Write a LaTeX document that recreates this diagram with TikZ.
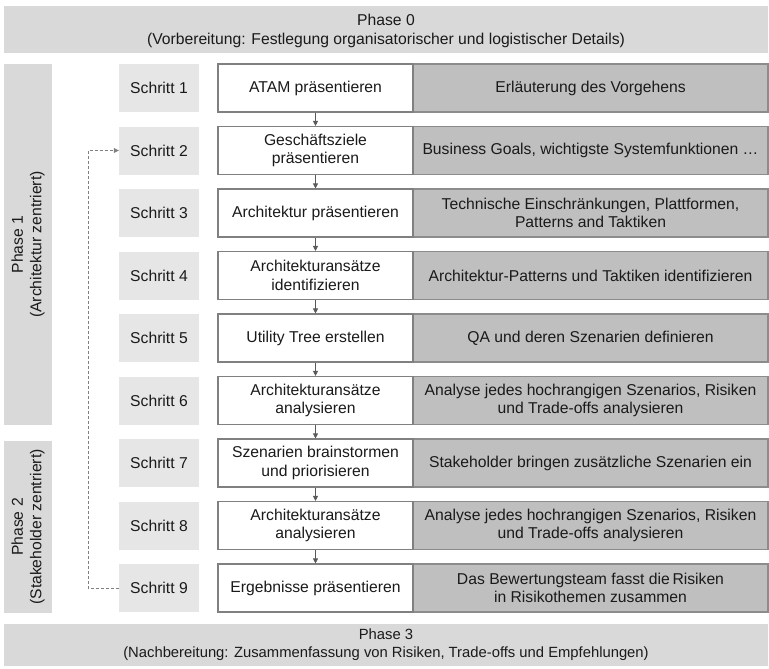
\documentclass[tikz,border=0pt]{standalone}
\usepackage{fontspec}
\setmainfont{Liberation Sans}
\usetikzlibrary{arrows.meta}

\definecolor{phasefill}{HTML}{D9D9D9}
\definecolor{stepfill}{HTML}{E6E6E6}
\definecolor{descfill}{HTML}{BFBFBF}
\definecolor{descline}{HTML}{8C8C8C}
\definecolor{actline}{HTML}{808080}
\definecolor{arrowcol}{HTML}{595959}
\definecolor{textcol}{HTML}{1A1A1A}

\tikzset{
  every node/.style={text=textcol},
  labelfont/.style={font=\fontsize{15.7}{18.5}\selectfont},
  phasebar/.style={fill=phasefill, draw=none, inner sep=0pt},
  phasetext/.style={labelfont, align=center, inner sep=0pt},
  stepbox/.style={fill=stepfill, draw=none, minimum width=80pt, minimum height=48pt,
    inner sep=0pt, labelfont},
  actbox/.style={fill=white, draw=actline, line width=1.1pt, minimum width=195pt,
    minimum height=48pt, inner sep=0pt, align=center, labelfont},
  descbox/.style={fill=descfill, draw=descline, line width=1.3pt, minimum width=355pt,
    minimum height=48pt, inner sep=0pt, align=center, labelfont},
  flow/.style={draw=arrowcol, line width=0.8pt, -{Triangle[width=5pt,length=5pt]}},
  backlink/.style={draw=actline, line width=0.8pt, dash pattern=on 3pt off 2pt,
    -{Triangle[width=5pt,length=5pt]}}
}

\begin{document}
\begin{tikzpicture}[x=1pt,y=-1pt]
\useasboundingbox (0,0) rectangle (769,669);

% phase bars
\node[phasebar, minimum width=764pt, minimum height=47pt] (p0) at (386,29.5) {};
\node[phasetext] (p0t) at (386,31)
  {Phase 0\\(Vorbereitung: Festlegung organisatorischer und logistischer Details)};
\node[phasebar, minimum width=764pt, minimum height=42pt] (p3) at (386,645) {};
\node[phasetext, font=\fontsize{14.8}{18}\selectfont] (p3t) at (386,645)
  {Phase 3\\(Nachbereitung: Zusammenfassung von Risiken, Trade-offs und Empfehlungen)};
\node[phasebar, minimum width=48pt, minimum height=361pt] (p1) at (28,244.5) {};
\node[phasetext, rotate=90] (p1t) at (p1.center) {Phase 1\\(Architektur zentriert)};
\node[phasebar, minimum width=48pt, minimum height=172pt] (p2) at (28,527) {};
\node[phasetext, rotate=90] (p2t) at (p2.center) {Phase 2\\(Stakeholder zentriert)};

% steps: label, activity, description
\foreach \k/\act/\desc in {
  1/{ATAM präsentieren}/{Erläuterung des Vorgehens},
  2/{Geschäftsziele\\präsentieren}/{Business Goals, wichtigste Systemfunktionen …},
  3/{Architektur präsentieren}/{Technische Einschränkungen, Plattformen,\\Patterns and Taktiken},
  4/{Architekturansätze\\identifizieren}/{Architektur-Patterns und Taktiken identifizieren},
  5/{Utility Tree erstellen}/{QA und deren Szenarien definieren},
  6/{Architekturansätze\\analysieren}/{Analyse jedes hochrangigen Szenarios, Risiken\\und Trade-offs analysieren},
  7/{Szenarien brainstormen\\und priorisieren}/{Stakeholder bringen zusätzliche Szenarien ein},
  8/{Architekturansätze\\analysieren}/{Analyse jedes hochrangigen Szenarios, Risiken\\und Trade-offs analysieren},
  9/{Ergebnisse präsentieren}/{Das Bewertungsteam fasst die\,Risiken\\in Risikothemen zusammen}}
{
  \pgfmathsetmacro{\cy}{88+62.5*(\k-1)}
  \node[stepbox] (s\k) at (159,\cy) {Schritt \k};
  \node[descbox] (d\k) at (590.5,\cy) {\desc};
  \node[actbox] (a\k) at (315.5,\cy) {\act};
}

% sequence arrows
\foreach \k [evaluate=\k as \n using int(\k+1)] in {1,...,8}
  \draw[flow] (a\k.south) -- (a\n.north);

% loop back from step 9 to step 2
\coordinate (loopx) at (88,0);
\draw[backlink] (s9.west) -- (s9.west -| loopx) -- (s2.west -| loopx) -- (s2.west);
\end{tikzpicture}
\end{document}
